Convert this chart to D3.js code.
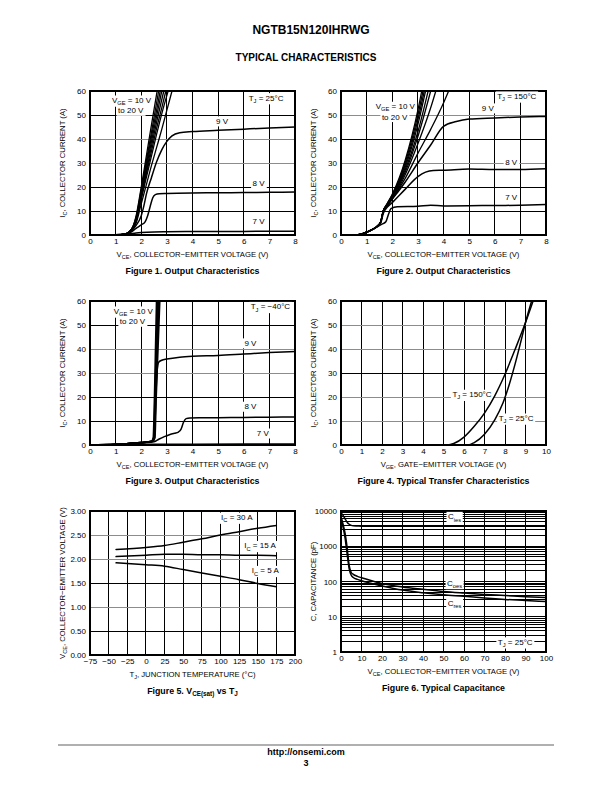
<!DOCTYPE html>
<html><head><meta charset="utf-8">
<script src="https://cdn.jsdelivr.net/npm/d3@7"></script>
<style>body{margin:0;background:#fff}svg{display:block}</style>
</head><body>
<script>
// ---------------- DATA ----------------
const vceTicks = [0,1,2,3,4,5,6,7,8];
const icTicks = [0,10,20,30,40,50,60];
const vgeTicks = [0,1,2,3,4,5,6,7,8,9,10];
const tjTicks = [-75,-50,-25,0,25,50,75,100,125,150,175,200];
const vsatTicks = [0,0.5,1,1.5,2,2.5,3];
const capVceTicks = [0,10,20,30,40,50,60,70,80,90,100];
const capTicks = [1,10,100,1000,10000];

// Figure 1 (TJ = 25 C): VGE 10..20 V bundle, 9 V, 8 V, 7 V
const fig1Bundle = [
  [[0,0],[1.0,0.1],[1.4,0.5],[1.6,2],[1.8,8],[2.0,20],[2.2,33],[2.4,46],[2.62,60]],
  [[0,0],[1.0,0.1],[1.4,0.5],[1.6,2],[1.8,7.5],[2.0,19],[2.2,31],[2.4,43],[2.68,60]],
  [[0,0],[1.0,0.1],[1.4,0.5],[1.6,2],[1.8,7],[2.0,18],[2.2,29.5],[2.4,41],[2.6,52],[2.74,60]],
  [[0,0],[1.0,0.1],[1.4,0.5],[1.6,2],[1.8,6.5],[2.0,17],[2.2,28],[2.4,39],[2.6,49.5],[2.8,60]],
  [[0,0],[1.0,0.1],[1.4,0.5],[1.6,2],[1.8,6],[2.0,16],[2.2,26.5],[2.4,37],[2.6,47],[2.88,60]],
  [[0,0],[1.0,0.1],[1.4,0.5],[1.6,2],[1.8,6],[2.0,15.5],[2.2,25.5],[2.4,35],[2.6,44.5],[2.8,53],[2.96,60]],
  [[0,0],[1.0,0.1],[1.4,0.5],[1.6,2],[1.8,5.5],[2.0,15],[2.2,24],[2.4,33],[2.6,42],[2.8,50.5],[3.05,60]],
  [[0,0],[1.0,0.1],[1.4,0.5],[1.6,2],[1.8,5],[2.0,13],[2.2,21],[2.4,29],[2.6,36.5],[2.8,44],[3.0,52],[3.2,60]]
];
const fig1V9 = [[0,0],[1.0,0.1],[1.4,0.5],[1.6,1.5],[1.8,4],[2.0,8],[2.1,12],[2.2,17],[2.4,24],[2.6,30.5],[2.8,35.5],[3.0,39],[3.2,41.3],[3.5,42.6],[4,43.1],[5,43.6],[6,44.1],[7,44.6],[8,45]];
const fig1V8 = [[0,0],[1.0,0.1],[1.4,0.4],[1.6,1.2],[1.8,2.8],[2.0,4.2],[2.15,5.5],[2.25,8],[2.35,12],[2.45,15.5],[2.55,16.8],[2.7,17.2],[3,17.3],[4,17.5],[5,17.6],[6,17.7],[7,17.8],[8,17.9]];
const fig1V7 = [[0,0],[1.0,0.1],[1.5,0.4],[1.8,0.8],[2.0,1.0],[2.5,1.3],[3,1.4],[4,1.5],[6,1.5],[8,1.6]];

// Figure 2 (TJ = 150 C)
const fig2Bundle = [
  [[0,0],[0.5,0],[0.8,0.4],[1.0,1.2],[1.2,2.2],[1.4,3.5],[1.55,5.5],[1.65,10],[1.8,13],[2.0,17],[2.5,31],[3.0,52],[3.15,60]],
  [[0,0],[0.5,0],[0.8,0.4],[1.0,1.2],[1.2,2.2],[1.4,3.5],[1.55,5.5],[1.65,10],[1.8,13],[2.0,16.5],[2.5,30],[3.0,50],[3.2,60]],
  [[0,0],[0.5,0],[0.8,0.4],[1.0,1.2],[1.2,2.2],[1.4,3.5],[1.55,5.5],[1.65,10],[1.8,12.8],[2.0,16.5],[2.5,29],[3.0,48],[3.25,60]],
  [[0,0],[0.5,0],[0.8,0.4],[1.0,1.2],[1.2,2.2],[1.4,3.5],[1.55,5.5],[1.65,10],[1.8,12.6],[2.0,16],[2.5,28],[3.0,46],[3.3,60]],
  [[0,0],[0.5,0],[0.8,0.4],[1.0,1.2],[1.2,2.2],[1.4,3.5],[1.55,5.5],[1.65,10],[1.8,12.5],[2.0,16],[2.5,27],[3.0,43],[3.4,60]],
  [[0,0],[0.5,0],[0.8,0.4],[1.0,1.2],[1.2,2.2],[1.4,3.5],[1.55,5.5],[1.65,10],[1.8,12.3],[2.0,15.5],[2.5,26],[3.0,41],[3.5,60]],
  [[0,0],[0.5,0],[0.8,0.4],[1.0,1.2],[1.2,2.2],[1.4,3.5],[1.55,5.5],[1.65,10],[1.8,12],[2.0,15],[2.5,25],[3.0,38],[3.5,53],[3.7,60]],
  [[0,0],[0.5,0],[0.8,0.4],[1.0,1.2],[1.2,2.2],[1.4,3.5],[1.55,5.5],[1.65,10],[1.8,12],[2.0,15],[2.5,23.5],[3.0,34],[3.5,44],[4.0,55],[4.2,60]]
];
const fig2V9 = [[0,0],[0.5,0],[0.8,0.4],[1.0,1.2],[1.2,2.2],[1.4,3.5],[1.55,5.5],[1.65,10],[1.8,12.5],[2.0,15],[2.5,22],[3.0,30],[3.5,37.5],[4.0,45.3],[4.5,47.3],[5,48.3],[6,48.8],[7,49.2],[8,49.4]];
const fig2V8 = [[0,0],[0.5,0],[0.8,0.4],[1.0,1.2],[1.2,2.2],[1.4,3.5],[1.55,5],[1.65,9],[1.8,11.5],[2.0,13.5],[2.5,19],[3.0,24.3],[3.3,26.2],[3.6,26.9],[4,27],[5,27.5],[6,27.3],[7,27.3],[8,27.6]];
const fig2V7 = [[0,0],[0.5,0],[0.8,0.4],[1.0,1.2],[1.2,2.2],[1.4,3.3],[1.6,4.5],[1.75,5.5],[1.85,8.5],[1.95,11],[2.2,11.8],[3,12],[3.5,12.4],[4,12.1],[5,12.2],[6,12.3],[7,12.4],[8,12.7]];

// Figure 3 (TJ = -40 C)
const fig3Bundle = [
  [[0,0],[1.0,0.2],[1.5,0.6],[2.0,1.0],[2.4,1.5],[2.47,3],[2.52,20],[2.56,40],[2.6,60]],
  [[0,0],[1.0,0.2],[1.5,0.6],[2.0,1.0],[2.42,1.5],[2.49,3],[2.54,20],[2.59,40],[2.64,60]],
  [[0,0],[1.0,0.2],[1.5,0.6],[2.0,1.0],[2.44,1.6],[2.51,3],[2.56,20],[2.62,40],[2.68,60]],
  [[0,0],[1.0,0.2],[1.5,0.6],[2.0,1.0],[2.46,1.6],[2.53,3],[2.58,20],[2.65,40],[2.72,60]]
];
const fig3V9 = [[0,0],[1.0,0.2],[1.5,0.6],[2.0,1.0],[2.45,1.6],[2.52,5],[2.57,20],[2.62,31],[2.68,34.5],[2.8,35.3],[3,35.8],[3.5,36.6],[4,37],[5,37.3],[6,37.9],[7,38.5],[8,39]];
const fig3V8 = [[0,0],[1.0,0.2],[1.5,0.5],[2.0,0.9],[2.5,1.3],[2.7,2.5],[2.9,3.5],[3.1,4.3],[3.3,4.9],[3.45,5.4],[3.55,6.5],[3.65,9.5],[3.75,11],[3.9,11.3],[5,11.4],[6,11.5],[7,11.6],[8,11.7]];
const fig3V7 = [[0,0],[1.0,0.1],[2.0,0.2],[4,0.3],[8,0.35]];

// Figure 4 transfer characteristics
const fig4T150 = [[0,0],[5.2,0],[5.5,0.6],[6,3.3],[6.5,7.8],[7,13.3],[7.5,20.5],[8,29.5],[8.5,40],[9,51],[9.37,60]];
const fig4T25 = [[0,0],[6.2,0],[6.5,1],[7,4.5],[7.5,10.5],[7.9,17.5],[8.2,25],[8.5,34],[8.8,44],[9.0,51],[9.3,60]];

// Figure 5 VCE(sat) vs TJ
const fig5Temps = [-40,0,25,50,75,100,125,150,175];
const fig5Ic30 = [2.20,2.24,2.28,2.35,2.42,2.50,2.57,2.64,2.70];
const fig5Ic15 = [2.05,2.08,2.10,2.10,2.09,2.09,2.08,2.08,2.07];
const fig5Ic5  = [1.92,1.88,1.85,1.78,1.71,1.64,1.57,1.49,1.42];

// Figure 6 capacitance
const fig6Vce  = [0,1,2,3,4,5,6,8,10,15,20,30,40,50,60,70,80,90,100];
const fig6Cies = [9000,7500,6000,4800,4200,3900,3800,3750,3700,3700,3700,3700,3700,3700,3700,3700,3700,3700,3700];
const fig6Coes = [7000,4200,2300,900,280,180,160,140,128,105,88,70,60,52,47,43,40,37,35];
const fig6Cres = [6000,3500,1700,600,230,150,130,115,105,88,75,57,48,42,38,34,31,29,27];

// ---------------- DRAW ----------------
const FONT = "'Liberation Sans', Arial, Helvetica, sans-serif";
const svg = d3.select('body').append('svg').attr('width',612).attr('height',792)
  .style('font-family', FONT);

function richText(g, x, y, parts, opts={}) {
  const fs = opts.size || 8;
  const t = g.append('text').attr('x',x).attr('y',y)
    .attr('font-size', fs)
    .attr('font-weight', opts.bold ? 'bold' : 'normal')
    .attr('text-anchor', opts.anchor || 'middle')
    .attr('fill','#000');
  if (opts.rotate) t.attr('transform', `rotate(-90,${x},${y})`);
  let shift = 0;
  parts.forEach(p => {
    const s = t.append('tspan').text(p[0]);
    if (p[1] === 'sub') {
      s.attr('font-size', fs*0.72).attr('dy', fs*0.28 - shift);
      shift = fs*0.28;
    } else if (shift) {
      s.attr('dy', -shift);
      shift = 0;
    }
  });
  if (opts.bg) {
    const bb = t.node().getBBox();
    const pad = opts.pad || 1.5;
    g.insert('rect', () => t.node())
      .attr('x', bb.x - pad).attr('y', bb.y - 0.5)
      .attr('width', bb.width + 2*pad).attr('height', bb.height + 1)
      .attr('fill','#fff');
  }
  return t;
}

function chart(cfg) {
  const g = svg.append('g');
  const x = d3.scaleLinear().domain(cfg.xDomain).range([cfg.left, cfg.right]);
  const y = (cfg.log ? d3.scaleLog() : d3.scaleLinear()).domain(cfg.yDomain).range([cfg.bottom, cfg.top]);
  const grid = g.append('g').attr('shape-rendering','crispEdges');
  cfg.xTicks.forEach(v => {
    grid.append('line').attr('x1',x(v)).attr('x2',x(v)).attr('y1',cfg.top).attr('y2',cfg.bottom)
      .attr('stroke','#000').attr('stroke-width',1);
  });
  (cfg.yGrid || cfg.yTicks).forEach(v => {
    const gray = (cfg.grayY || []).includes(v);
    grid.append('line').attr('x1',cfg.left).attr('x2',cfg.right).attr('y1',y(v)).attr('y2',y(v))
      .attr('stroke', gray ? '#8c8c8c' : '#000').attr('stroke-width', 1);
  });
  grid.append('rect').attr('x',cfg.left).attr('y',cfg.top)
    .attr('width',cfg.right-cfg.left).attr('height',cfg.bottom-cfg.top)
    .attr('fill','none').attr('stroke','#000').attr('stroke-width',1.2);

  // axes
  const ax = g.append('g').attr('transform',`translate(0,${cfg.bottom})`)
    .call(d3.axisBottom(x).tickValues(cfg.xTicks).tickSize(0).tickPadding(3.5)
      .tickFormat(cfg.xFormat || d3.format('d')));
  const ay = g.append('g').attr('transform',`translate(${cfg.left},0)`)
    .call(d3.axisLeft(y).tickValues(cfg.yTicks).tickSize(0).tickPadding(4)
      .tickFormat(cfg.yFormat || d3.format('d')));
  [ax, ay].forEach(a => {
    a.select('.domain').remove();
    a.selectAll('text').attr('font-family', FONT).attr('font-size', 8).attr('fill','#000');
  });

  // annotations (behind curves)
  const ann = g.append('g');
  (cfg.labels || []).forEach(l => {
    richText(ann, x(l.x), y(l.y), l.parts, {bg:true, size:8, anchor: l.anchor || 'middle'});
  });

  // curves
  const line = d3.line().x(d => x(d[0])).y(d => y(d[1])).curve(d3.curveMonotoneX);
  const cg = g.append('g').attr('fill','none').attr('stroke','#000')
    .attr('stroke-linejoin','round').attr('stroke-linecap','round');
  cfg.series.forEach(s => {
    cg.append('path').attr('d', line(s.data)).attr('stroke-width', s.w || 1.5)
      .attr('stroke', s.color || '#000');
  });

  // titles
  const cx = (cfg.left + cfg.right)/2, cy = (cfg.top + cfg.bottom)/2;
  richText(g, cx, cfg.bottom + 21.5, cfg.xTitle, {size:7.7});
  richText(g, cfg.left - 25, cy, cfg.yTitle, {size:7.7, rotate:true});
  richText(g, cx, cfg.bottom + 39, cfg.caption, {size:8.8, bold:true});
}

const zip = (xs, ys) => xs.map((v,i) => [v, ys[i]]);
const vceTitle = [['V'],['CE','sub'],[', COLLECTOR\u2212EMITTER VOLTAGE (V)']];
const icTitle = [['I'],['C','sub'],[', COLLECTOR CURRENT (A)']];
const vgeLbl = (xv, yv) => [
  {x:xv, y:yv, parts:[['V'],['GE','sub'],[' = 10 V']]},
  {x:xv-0.03, y:yv-4.3, parts:[['to 20 V']]}
];

chart({left:90,right:295,top:91,bottom:235, xDomain:[0,8], xTicks:vceTicks, yDomain:[0,60], yTicks:icTicks,
  grayY:[30,40], xTitle:vceTitle, yTitle:icTitle, caption:[['Figure 1. Output Characteristics']],
  labels:[...vgeLbl(1.62,55), {x:6.87,y:56,parts:[['T'],['J','sub'],[' = 25\u00B0C']]},
    {x:5.15,y:46.3,parts:[['9 V']]},{x:6.58,y:20.4,parts:[['8 V']]},{x:6.58,y:4.6,parts:[['7 V']]}],
  series:[...fig1Bundle.map(d=>({data:d, w:1.3})), {data:fig1V9},{data:fig1V8},{data:fig1V7}]});

chart({left:341,right:546,top:91,bottom:235, xDomain:[0,8], xTicks:vceTicks, yDomain:[0,60], yTicks:icTicks,
  grayY:[30,50], xTitle:vceTitle, yTitle:icTitle, caption:[['Figure 2. Output Characteristics']],
  labels:[...vgeLbl(2.12,52.4), {x:6.86,y:56.7,parts:[['T'],['J','sub'],[' = 150\u00B0C']]},
    {x:5.73,y:51.7,parts:[['9 V']]},{x:6.64,y:29,parts:[['8 V']]},{x:6.64,y:14.6,parts:[['7 V']]}],
  series:[...fig2Bundle.map(d=>({data:d, w:1.3})), {data:fig2V9},{data:fig2V8},{data:fig2V7}]});

chart({left:90,right:295,top:301,bottom:445, xDomain:[0,8], xTicks:vceTicks, yDomain:[0,60], yTicks:icTicks,
  grayY:[30,40], xTitle:vceTitle, yTitle:icTitle, caption:[['Figure 3. Output Characteristics']],
  labels:[...vgeLbl(1.69,54.6), {x:7.04,y:56.5,parts:[['T'],['J','sub'],[' = \u221240\u00B0C']]},
    {x:6.26,y:41.3,parts:[['9 V']]},{x:6.26,y:14.9,parts:[['8 V']]},{x:6.74,y:3.75,parts:[['7 V']]}],
  series:[...fig3Bundle.map(d=>({data:d, w:1.8})), {data:fig3V9},{data:fig3V8},{data:fig3V7, w:1.8}]});

chart({left:341,right:546,top:301,bottom:445, xDomain:[0,10], xTicks:vgeTicks, yDomain:[0,60], yTicks:icTicks,
  grayY:[10,20,40,50], xTitle:[['V'],['GE','sub'],[', GATE\u2212EMITTER VOLTAGE (V)']], yTitle:icTitle,
  caption:[['Figure 4. Typical Transfer Characteristics']],
  labels:[{x:6.39,y:19.9,parts:[['T'],['J','sub'],[' = 150\u00B0C']]},{x:8.54,y:10,parts:[['T'],['J','sub'],[' = 25\u00B0C']]}],
  series:[{data:fig4T150},{data:fig4T25}]});

chart({left:90,right:295,top:511,bottom:655, xDomain:[-75,200], xTicks:tjTicks, yDomain:[0,3], yTicks:vsatTicks,
  grayY:[1,2,2.5], yFormat:d3.format('.2f'),
  xTitle:[['T'],['J','sub'],[', JUNCTION TEMPERATURE (\u00B0C)']],
  yTitle:[['V'],['CE','sub'],[', COLLECTOR\u2212EMITTER VOLTAGE (V)']],
  caption:[['Figure 5. V'],['CE(sat)','sub'],[' vs T'],['J','sub']],
  labels:[{x:122,y:2.81,parts:[['I'],['C','sub'],[' = 30 A']]},{x:153,y:2.22,parts:[['I'],['C','sub'],[' = 15 A']]},
    {x:160,y:1.70,parts:[['I'],['C','sub'],[' = 5 A']]}],
  series:[{data:zip(fig5Temps,fig5Ic30)},{data:zip(fig5Temps,fig5Ic15)},{data:zip(fig5Temps,fig5Ic5)}]});

const capGrid = [];
capTicks.slice(0,-1).forEach(d => { for (let k=1;k<10;k++) capGrid.push(d*k); });
capGrid.push(10000);
chart({left:341,right:546,top:511,bottom:652, xDomain:[0,100], xTicks:capVceTicks, yDomain:[1,10000], log:true,
  yTicks:capTicks, yGrid:capGrid, xTitle:vceTitle, yTitle:[['C, CAPACITANCE (pF)']],
  caption:[['Figure 6. Typical Capacitance']],
  labels:[{x:55.4,y:5800,parts:[['C'],['ies','sub']]},{x:55.4,y:77,parts:[['C'],['oes','sub']]},
    {x:55.4,y:20.5,parts:[['C'],['res','sub']]},{x:85,y:1.6,parts:[['T'],['J','sub'],[' = 25\u00B0C']]}],
  series:[{data:zip(fig6Vce,fig6Cies)},{data:zip(fig6Vce,fig6Coes)},{data:zip(fig6Vce,fig6Cres)}]});

// page header / footer
richText(svg, 311, 34, [['NGTB15N120IHRWG']], {size:12, bold:true});
richText(svg, 306, 61, [['TYPICAL CHARACTERISTICS']], {size:10, bold:true});
svg.append('line').attr('x1',58).attr('x2',554).attr('y1',745).attr('y2',745)
  .attr('stroke','#b0b0b0').attr('stroke-width',2);
richText(svg, 306, 755, [['http://onsemi.com']], {size:9, bold:true});
richText(svg, 306, 766, [['3']], {size:9, bold:true});
</script>
</body></html>
